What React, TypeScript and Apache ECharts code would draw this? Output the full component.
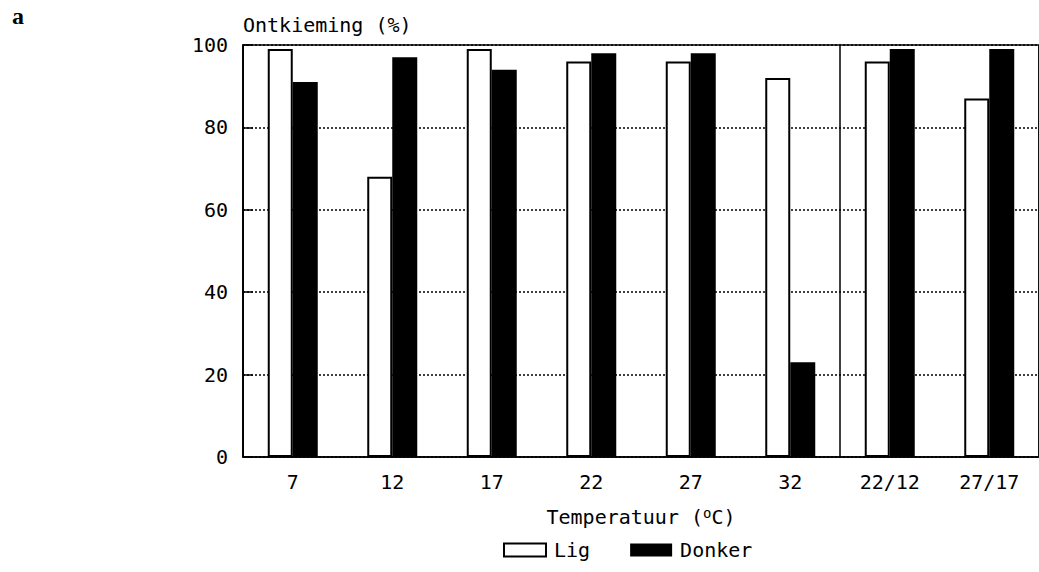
import React, { useEffect, useRef } from "react";
import * as echarts from "echarts";

// Germination percentage per temperature regime (constant and alternating)
const categories = ["7", "12", "17", "22", "27", "32", "22/12", "27/17"];
const ligValues = [99, 68, 99, 96, 96, 92, 96, 87];
const donkerValues = [91, 97, 94, 98, 98, 23, 99, 99];
const yTicks = [0, 20, 40, 60, 80, 100];
// The constant regimes (first six) are separated from the alternating ones
const constantCount = 6;

const FONT = "DejaVu Sans Mono";

export default function App() {
  const ref = useRef<HTMLDivElement>(null);

  useEffect(() => {
    if (!ref.current) return;
    const chart = echarts.init(ref.current, null, { renderer: "svg" });
    chart.setOption({
      animation: false,
      backgroundColor: "#ffffff",
      textStyle: { fontFamily: FONT, color: "#000" },
      graphic: [
        {
          type: "text",
          left: 12,
          top: 4,
          style: {
            text: "a",
            font: "bold 24px 'Liberation Serif'",
            fill: "#000",
          },
        },
      ],
      grid: {
        left: 243,
        top: 45,
        right: -4,
        bottom: 115,
        show: true,
        borderColor: "#000",
        borderWidth: 1.5,
        backgroundColor: "transparent",
      },
      legend: {
        left: 503,
        top: 540,
        padding: 0,
        itemWidth: 42,
        itemHeight: 13,
        itemGap: 40,
        icon: "rect",
        textStyle: { fontFamily: FONT, fontSize: 20, color: "#000", padding: [0, 0, 0, 3] },
        data: ["Lig", "Donker"],
      },
      xAxis: [
        {
          type: "category",
          data: categories,
          boundaryGap: true,
          axisLine: { lineStyle: { color: "#000", width: 1.5 } },
          axisTick: { show: false },
          axisLabel: { fontFamily: FONT, fontSize: 20, color: "#000", margin: 15 },
          splitLine: { show: false },
          name: "{t|Temperatuur (}{s|o}{t|C)}",
          nameLocation: "middle",
          nameGap: 49,
          nameTextStyle: {
            rich: {
              t: { fontFamily: FONT, fontSize: 20, color: "#000" },
              s: { fontFamily: FONT, fontSize: 14, color: "#000", padding: [0, 0, 8, 0] },
            },
          },
        },
        {
          // helper axis: draws the divider between constant and alternating regimes
          type: "value",
          position: "top",
          min: 0,
          max: categories.length,
          interval: constantCount,
          axisLine: { show: false },
          axisTick: { show: false },
          axisLabel: { show: false },
          splitLine: { show: true, lineStyle: { color: "#000", width: 1.5 } },
        },
      ],
      yAxis: {
        type: "value",
        min: yTicks[0],
        max: yTicks[yTicks.length - 1],
        interval: 20,
        axisLine: { show: true, lineStyle: { color: "#000", width: 1.5 } },
        axisTick: { show: true, inside: true, length: 10, lineStyle: { color: "#000", width: 1.5 } },
        axisLabel: { fontFamily: FONT, fontSize: 20, color: "#000", margin: 15 },
        splitLine: {
          show: true,
          lineStyle: { color: "#000", width: 1.5, type: [2, 2] },
        },
        name: "Ontkieming (%)",
        nameLocation: "end",
        nameGap: 10,
        nameTextStyle: { fontFamily: FONT, fontSize: 20, color: "#000", align: "left" },
      },
      series: [
        {
          name: "Lig",
          type: "bar",
          xAxisIndex: 0,
          data: ligValues,
          barWidth: 25,
          barGap: "0%",
          itemStyle: { color: "#ffffff", borderColor: "#000", borderWidth: 2 },
        },
        {
          name: "Donker",
          type: "bar",
          xAxisIndex: 0,
          data: donkerValues,
          barWidth: 25,
          barGap: "0%",
          itemStyle: { color: "#000000" },
        },
      ],
    });
    return () => chart.dispose();
  }, []);

  return (
    <div
      ref={ref}
      style={{ position: "fixed", left: 0, top: 0, width: 1039, height: 572 }}
    />
  );
}
